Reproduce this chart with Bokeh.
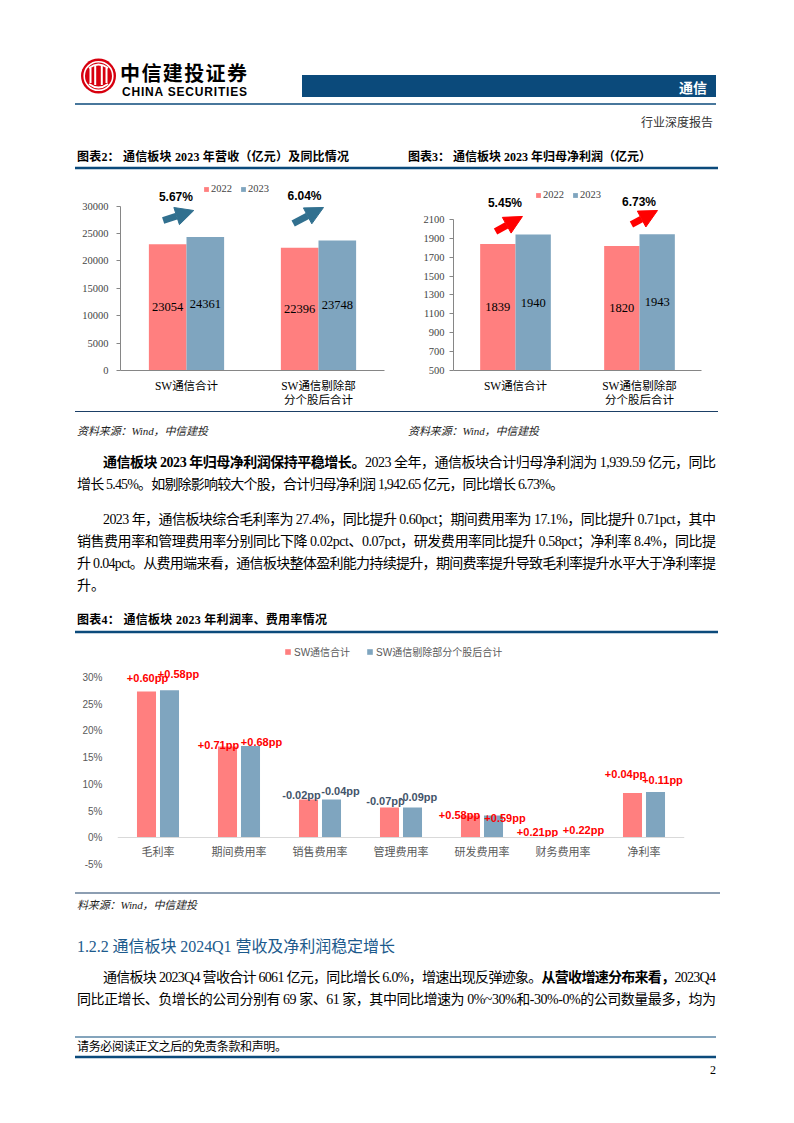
from bokeh.plotting import figure
from bokeh.models import (ColumnDataSource, FactorRange, Range1d, Legend, LegendItem,
                          Arrow, NormalHead, FixedTicker, PrintfTickFormatter, Div)
from bokeh.layouts import column, row
from bokeh.transform import dodge
from bokeh.core.properties import value
from bokeh.embed import file_html
from bokeh.resources import INLINE

# ---------------- data ----------------
pair_categories = ["SW通信合计", "SW通信剔除部\n分个股后合计"]
year_names = ["2022", "2023"]

rev_2022 = [23054, 22396]
rev_2023 = [24361, 23748]
rev_growth = ["5.67%", "6.04%"]
rev_ticks = [0, 5000, 10000, 15000, 20000, 25000, 30000]

np_2022 = [1839, 1820]
np_2023 = [1940, 1943]
np_growth = ["5.45%", "6.73%"]
np_ticks = [500, 700, 900, 1100, 1300, 1500, 1700, 1900, 2100]

ratio_categories = ["毛利率", "期间费用率", "销售费用率", "管理费用率", "研发费用率", "财务费用率", "净利率"]
series_names = ["SW通信合计", "SW通信剔除部分个股后合计"]
ratio_all = [27.4, 17.1, 7.2, 5.7, 4.2, 0.0, 8.4]
ratio_ex = [27.6, 17.2, 7.2, 5.7, 4.2, 0.0, 8.6]
chg_all = ["+0.60pp", "+0.71pp", "-0.02pp", "-0.07pp", "+0.58pp", "+0.21pp", "+0.04pp"]
chg_ex = ["+0.58pp", "+0.68pp", "-0.04pp", "-0.09pp", "+0.59pp", "+0.22pp", "+0.11pp"]
ratio_ticks = [-5, 0, 5, 10, 15, 20, 25, 30]

# ---------------- styles ----------------
RED = "#ff7f7f"
BLUE = "#7fa5bf"
NAVY = "#0b4a7b"
SERIF_CJK = "Liberation Serif, Noto Sans CJK SC"
SANS_CJK = "Liberation Sans, Noto Sans CJK SC"


def style_common(p):
    p.outline_line_color = None
    p.xgrid.grid_line_color = None
    p.ygrid.grid_line_color = None
    p.background_fill_color = "white"
    p.border_fill_color = "white"


def pair_chart(width, left, right, y_start, y_end, ticks, v22, v23, growth,
               arrow_color, arrow_pts, growth_pts, legend_loc, tick_standoff):
    p = figure(width=width, height=240,
               x_range=FactorRange(factors=pair_categories, range_padding=0),
               y_range=Range1d(y_start, y_end),
               output_backend="svg", toolbar_location=None,
               min_border_left=left, min_border_right=right,
               min_border_top=5, min_border_bottom=40)
    style_common(p)
    src = ColumnDataSource(dict(
        cat=pair_categories, v22=v22, v23=v23,
        m22=[(y_start + v) / 2 for v in v22], m23=[(y_start + v) / 2 for v in v23],
        t22=[str(v) for v in v22], t23=[str(v) for v in v23]))
    r22 = p.vbar(x=dodge("cat", -0.1425, range=p.x_range), top="v22", bottom=y_start,
                 width=0.285, source=src, fill_color=RED, line_color=None)
    r23 = p.vbar(x=dodge("cat", 0.1425, range=p.x_range), top="v23", bottom=y_start,
                 width=0.285, source=src, fill_color=BLUE, line_color=None)
    for xs, ys, ts in ((-0.1425, "m22", "t22"), (0.1425, "m23", "t23")):
        p.text(x=dodge("cat", xs, range=p.x_range), y=ys, text=ts, source=src,
               text_align="center", text_baseline="middle",
               text_font=value("Liberation Serif"), text_font_size="12.5px", text_color="black")
    for (xs, ys, xe, ye) in arrow_pts:
        p.add_layout(Arrow(x_start=xs, y_start=ys, x_end=xe, y_end=ye,
                           line_color=arrow_color, line_width=7,
                           end=NormalHead(size=18, fill_color=arrow_color, line_color=arrow_color)))
    p.text(x=[g[0] for g in growth_pts], y=[g[1] for g in growth_pts], text=growth,
           text_align="center", text_baseline="middle",
           text_font=value("Liberation Sans"), text_font_style="bold",
           text_font_size="12px", text_color="black")
    leg = Legend(items=[LegendItem(label=year_names[0], renderers=[r22]),
                        LegendItem(label=year_names[1], renderers=[r23])],
                 orientation="horizontal", location=legend_loc,
                 glyph_width=6, glyph_height=6, label_standoff=2, spacing=8,
                 padding=0, margin=0, label_height=10, label_width=10,
                 label_text_font="Liberation Serif", label_text_font_size="10.5px",
                 border_line_color=None, background_fill_alpha=0)
    p.add_layout(leg)
    ya = p.yaxis[0]
    ya.ticker = FixedTicker(ticks=ticks)
    ya.bounds = (ticks[0], ticks[-1])
    ya.major_label_text_font = "Liberation Serif"
    ya.major_label_text_font_size = "10.5px"
    ya.axis_line_color = "#868686"
    ya.major_tick_line_color = "#868686"
    ya.major_tick_in = 0
    ya.major_tick_out = 4
    ya.minor_tick_line_color = None
    ya.major_label_standoff = tick_standoff
    xa = p.xaxis[0]
    xa.axis_line_color = "#868686"
    xa.major_tick_line_color = None
    xa.major_label_text_font = SERIF_CJK
    xa.major_label_text_font_size = "11.5px"
    xa.major_label_text_color = "black"
    xa.major_label_standoff = 3
    return p


fig2 = pair_chart(392, 112, 16, 0, 35600, rev_ticks, rev_2022, rev_2023, rev_growth,
                  "#31708f",
                  [(0.323, 27390, 0.555, 29210), (1.308, 26840, 1.538, 29760)],
                  [(0.42, 31590), (1.394, 31770)], (83, 176), 8)
fig3 = pair_chart(386, 53, 85, 500, 2566, np_ticks, np_2022, np_2023, np_growth,
                  "#ff0000",
                  [(0.339, 1973, 0.556, 2132), (1.435, 2047, 1.645, 2195)],
                  [(0.415, 2270), (1.496, 2280)], (82, 170), 5)

# ---------------- chart 4 ----------------
fig4 = figure(width=778, height=250,
              x_range=FactorRange(factors=ratio_categories, range_padding=0),
              y_range=Range1d(-5.33, 35.98),
              output_backend="svg", toolbar_location=None,
              min_border_left=109, min_border_right=102,
              min_border_top=5, min_border_bottom=24)
style_common(fig4)
lbl_dx_all = [1, -9, -7, -4, -11, -14, -7]
lbl_dy_all = [-13, -2, -4, -6, -1, -5.5, -19.5]
lbl_dx_ex = [9, 11, 9, 5.5, 11.5, 9, 7]
lbl_dy_ex = [-16, -3.5, -8, -10, 2, -7.5, -11.5]
src4 = ColumnDataSource(dict(
    cat=ratio_categories, a=ratio_all, e=ratio_ex, ca=chg_all, ce=chg_ex,
    dxa=lbl_dx_all, dya=lbl_dy_all, dxe=lbl_dx_ex, dye=lbl_dy_ex,
    cola=["#ff0000" if s.startswith("+") else "#44546a" for s in chg_all],
    cole=["#ff0000" if s.startswith("+") else "#44546a" for s in chg_ex]))
ra = fig4.vbar(x=dodge("cat", -0.142, range=fig4.x_range), top="a", width=0.235,
               source=src4, fill_color=RED, line_color=None)
re_ = fig4.vbar(x=dodge("cat", 0.142, range=fig4.x_range), top="e", width=0.235,
                source=src4, fill_color=BLUE, line_color=None)
fig4.text(x=dodge("cat", -0.142, range=fig4.x_range), y="a", text="ca", source=src4,
          x_offset="dxa", y_offset="dya", text_color="cola",
          text_align="center", text_baseline="middle",
          text_font=value("Liberation Sans"), text_font_style="bold", text_font_size="11px")
fig4.text(x=dodge("cat", 0.142, range=fig4.x_range), y="e", text="ce", source=src4,
          x_offset="dxe", y_offset="dye", text_color="cole",
          text_align="center", text_baseline="middle",
          text_font=value("Liberation Sans"), text_font_style="bold", text_font_size="11px")
leg4 = Legend(items=[LegendItem(label=series_names[0], renderers=[ra]),
                     LegendItem(label=series_names[1], renderers=[re_])],
              orientation="horizontal", location=(167, 207),
              glyph_width=7, glyph_height=7, label_standoff=3, spacing=16,
              padding=0, margin=0, label_height=10, label_width=10,
              label_text_font=SANS_CJK, label_text_font_size="10px",
              label_text_color="#595959",
              border_line_color=None, background_fill_alpha=0)
fig4.add_layout(leg4)
ya4 = fig4.yaxis[0]
ya4.ticker = FixedTicker(ticks=ratio_ticks)
ya4.formatter = PrintfTickFormatter(format="%d%%")
ya4.axis_line_color = None
ya4.major_tick_line_color = None
ya4.minor_tick_line_color = None
ya4.major_label_standoff = 9
ya4.major_label_text_font = "Liberation Sans"
ya4.major_label_text_font_size = "10px"
ya4.major_label_text_color = "#595959"
xa4 = fig4.xaxis[0]
xa4.fixed_location = 0
xa4.axis_line_color = "#d9d9d9"
xa4.major_tick_line_color = None
xa4.major_label_standoff = 2
xa4.major_label_text_font = SANS_CJK
xa4.major_label_text_font_size = "11px"
xa4.major_label_text_color = "#595959"

# ---------------- page text (SVG inside Divs) ----------------
SERIF_CSS = "'Liberation Serif','Noto Sans CJK SC',serif"
CJK_CSS = "'Noto Sans CJK SC',sans-serif"


def T(x, y, s, size=14, weight="normal", anchor="start", fill="#000", tl=None,
      family=SERIF_CSS, style="normal"):
    extra = f' textLength="{tl}" lengthAdjust="spacing"' if tl else ""
    css = (f"font-size:{size}px;font-weight:{weight};font-style:{style};"
           f"font-family:{family};fill:{fill}")
    return (f'<text x="{x}" y="{y}" style="{css}" '
            f'text-anchor="{anchor}" dominant-baseline="central"{extra}>{s}</text>')


def B(s):
    return f'<tspan style="font-weight:bold">{s}</tspan>'


def L(x1, x2, y, w, c=NAVY):
    return f'<line x1="{x1}" x2="{x2}" y1="{y}" y2="{y}" stroke="{c}" stroke-width="{w}"/>'


def svg(w, h, inner):
    return (f'<svg xmlns="http://www.w3.org/2000/svg" width="{w}" height="{h}" '
            f'style="display:block;overflow:visible">{inner}</svg>')


def mk_div(html, h):
    return Div(text=html, width=778, height=h, margin=0,
               styles={"padding": "0", "margin": "0", "overflow": "visible"})


# header: page y 8..170  (local = page - 8)
logo = (
    '<circle cx="90.5" cy="68" r="17.5" fill="#d7000f"/>'
    '<circle cx="90.5" cy="68" r="14.3" fill="none" stroke="white" stroke-width="1.6"/>'
    '<path d="M81 60 Q90.5 53 100 60" fill="none" stroke="white" stroke-width="1.8"/>'
    '<rect x="81.5" y="60" width="2" height="15" fill="white"/>'
    '<rect x="86.2" y="58" width="2" height="19" fill="white"/>'
    '<rect x="92.8" y="58" width="2" height="19" fill="white"/>'
    '<rect x="97.5" y="60" width="2" height="15" fill="white"/>'
    '<path d="M81 76 Q90.5 83 100 76" fill="none" stroke="white" stroke-width="1.8"/>'
)
head_inner = (
    logo
    + T(112, 64, "中信建投证券", 20, "bold", tl=127, family=CJK_CSS)
    + T(114, 83.5, "CHINA SECURITIES", 12, "bold", tl=125, family="'Liberation Sans',sans-serif")
    + f'<rect x="294" y="67" width="414" height="22" fill="{NAVY}"/>'
    + T(699, 78.5, "通信", 14, "bold", anchor="end", fill="white", family=CJK_CSS)
    + L(67, 708, 96, 1.5)
    + T(705, 115, "行业深度报告", 12, anchor="end", fill="#333")
    + T(69, 149, "图表2： 通信板块 2023 年营收（亿元）及同比情况", 12, "bold", tl=272)
    + T(400, 149, "图表3： 通信板块 2023 年归母净利润（亿元）", 12, "bold", tl=243)
    + L(67, 710, 160, 2.7)
)
div_head = mk_div(svg(778, 162, head_inner), 162)

# middle: page y 410..640 (local = page - 410)
mid_inner = (
    L(67, 710, 1.5, 1.2, "#1b3f66")
    + T(69, 21, "资料来源：Wind，中信建投", 11, style="italic", tl=131, fill="#222")
    + T(400, 21, "资料来源：Wind，中信建投", 11, style="italic", tl=131, fill="#222")
    + T(95, 52, B("通信板块 2023 年归母净利润保持平稳增长。")
        + "2023 全年，通信板块合计归母净利润为 1,939.59 亿元，同比", 14, tl=613)
    + T(69, 74, "增长 5.45%。如剔除影响较大个股，合计归母净利润 1,942.65 亿元，同比增长 6.73%。", 14, tl=487)
    + T(95, 109, "2023 年，通信板块综合毛利率为 27.4%，同比提升 0.60pct；期间费用率为 17.1%，同比提升 0.71pct，其中", 14, tl=613)
    + T(69, 131, "销售费用率和管理费用率分别同比下降 0.02pct、0.07pct，研发费用率同比提升 0.58pct；净利率 8.4%，同比提", 14, tl=639)
    + T(69, 153, "升 0.04pct。从费用端来看，通信板块整体盈利能力持续提升，期间费率提升导致毛利率提升水平大于净利率提", 14, tl=639)
    + T(69, 175, "升。", 14)
    + T(69, 210, "图表4：  通信板块 2023 年利润率、费用率情况", 12, "bold", tl=250)
    + L(67, 710, 222, 2.7)
)
div_mid = mk_div(svg(778, 230, mid_inner), 230)

# bottom: page y 890..1085 (local = page - 890)
bot_inner = (
    L(67, 712, 3, 1.2, "#1b3f66")
    + T(69, 15, "料来源：Wind，中信建投", 11, style="italic", tl=120, fill="#222")
    + T(69, 56, "1.2.2 通信板块 2024Q1 营收及净利润稳定增长", 16, fill="#1c5a8c", tl=318)
    + T(95, 87, "通信板块 2023Q4 营收合计 6061 亿元，同比增长 6.0%，增速出现反弹迹象。"
        + B("从营收增速分布来看，") + "2023Q4", 14, tl=613)
    + T(69, 109, "同比正增长、负增长的公司分别有 69 家、61 家，其中同比增速为 0%~30%和-30%-0%的公司数量最多，均为", 14, tl=639)
    + L(67, 708, 147, 1.2)
    + T(69, 157, "请务必阅读正文之后的免责条款和声明。", 12, tl=210)
    + L(67, 708, 167, 2.5)
    + T(708, 180, "2", 12, anchor="end")
)
div_bot = mk_div(svg(778, 195, bot_inner), 195)

layout = column(div_head, row(fig2, fig3, spacing=0), div_mid, fig4, div_bot,
                spacing=0, margin=(8, 0, 0, 8))

open("out.html", "w").write(file_html(layout, INLINE))
